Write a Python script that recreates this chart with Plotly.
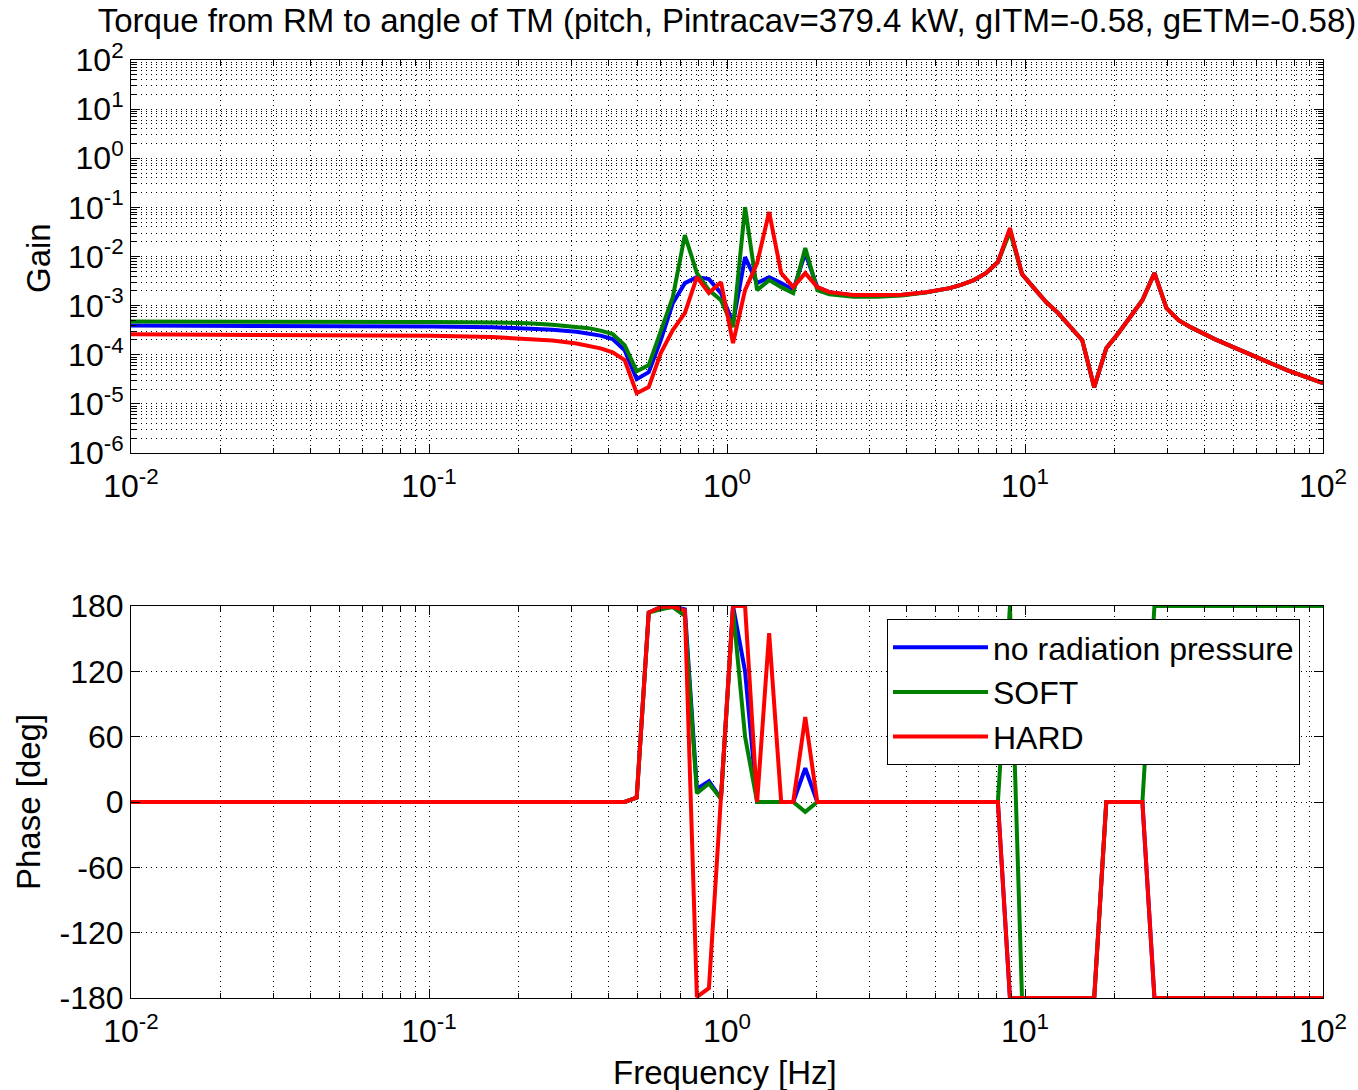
import plotly.graph_objects as go

# ---------------- data ----------------
freq_hz = [0.01, 0.02535, 0.03352, 0.03678, 0.06428, 0.1023, 0.1630, 0.2154, 0.2596, 0.3126,
           0.3430, 0.3765, 0.4132, 0.4535, 0.4977, 0.5462, 0.5995, 0.6579, 0.7221, 0.7925,
           0.8697, 0.9545, 1.0476, 1.1498, 1.2619, 1.3849, 1.5199, 1.6681, 1.8307, 2.0092,
           2.2051, 2.656, 3.199, 3.853, 4.642, 5.094, 5.591, 6.136, 6.734, 7.391,
           8.111, 8.902, 9.770, 10.72, 11.77, 12.92, 14.17, 15.56, 17.07, 18.74,
           20.57, 22.57, 24.77, 27.19, 29.84, 32.75, 35.94, 43.29, 57.22, 75.65, 100.0]

gain_none = [3.92e-4, 3.92e-4, 3.91e-4, 3.91e-4, 3.90e-4, 3.77e-4, 3.65e-4, 3.48e-4, 3.24e-4, 2.95e-4,
             2.75e-4, 2.45e-4, 2.08e-4, 1.24e-4, 3.18e-5, 4.42e-5, 1.98e-4, 1.12e-3, 2.87e-3, 3.80e-3,
             3.47e-3, 1.80e-3, 4.40e-4, 9.72e-3, 2.87e-3, 3.80e-3, 2.87e-3, 2.07e-3, 1.17e-2, 2.38e-3,
             1.88e-3, 1.60e-3, 1.60e-3, 1.65e-3, 1.86e-3, 2.02e-3, 2.27e-3, 2.68e-3, 3.31e-3, 4.59e-3,
             7.69e-3, 3.50e-2, 4.38e-3, 2.27e-3, 1.18e-3, 7.03e-4, 3.82e-4, 1.98e-4, 2.19e-5, 1.36e-4,
             2.75e-4, 6.11e-4, 1.29e-3, 4.59e-3, 8.89e-4, 5.07e-4, 3.65e-4, 2.08e-4, 9.82e-5, 4.85e-5, 2.64e-5]

gain_soft = [4.77e-4, 4.77e-4, 4.76e-4, 4.76e-4, 4.75e-4, 4.65e-4, 4.55e-4, 4.40e-4, 4.10e-4, 3.73e-4,
             3.48e-4, 3.10e-4, 2.63e-4, 1.57e-4, 4.63e-5, 6.14e-5, 3.17e-4, 1.49e-3, 2.73e-2, 4.59e-3,
             2.07e-3, 1.29e-3, 3.65e-4, 1.014e-1, 2.07e-3, 3.31e-3, 2.38e-3, 1.80e-3, 1.48e-2, 2.07e-3,
             1.71e-3, 1.52e-3, 1.52e-3, 1.60e-3, 1.84e-3, 2.02e-3, 2.27e-3, 2.68e-3, 3.31e-3, 4.59e-3,
             7.69e-3, 3.20e-2, 4.38e-3, 2.27e-3, 1.18e-3, 7.03e-4, 3.82e-4, 1.98e-4, 2.19e-5, 1.36e-4,
             2.75e-4, 6.11e-4, 1.29e-3, 4.59e-3, 8.89e-4, 5.07e-4, 3.65e-4, 2.08e-4, 9.82e-5, 4.85e-5, 2.64e-5]

gain_hard = [2.60e-4, 2.58e-4, 2.57e-4, 2.56e-4, 2.52e-4, 2.45e-4, 2.30e-4, 2.12e-4, 1.95e-4, 1.70e-4,
             1.55e-4, 1.35e-4, 1.12e-4, 7.80e-5, 1.65e-5, 2.19e-5, 1.08e-4, 3.17e-4, 7.03e-4, 3.80e-3,
             1.80e-3, 3.01e-3, 1.72e-4, 2.07e-3, 7.34e-3, 8.02e-2, 4.59e-3, 2.38e-3, 4.59e-3, 2.38e-3,
             1.88e-3, 1.64e-3, 1.64e-3, 1.67e-3, 1.88e-3, 2.02e-3, 2.27e-3, 2.68e-3, 3.31e-3, 4.59e-3,
             7.69e-3, 3.79e-2, 4.38e-3, 2.27e-3, 1.18e-3, 7.03e-4, 3.82e-4, 1.98e-4, 2.19e-5, 1.36e-4,
             2.75e-4, 6.11e-4, 1.29e-3, 4.59e-3, 8.89e-4, 5.07e-4, 3.65e-4, 2.08e-4, 9.82e-5, 4.85e-5, 2.64e-5]

phase_none = [0, 0, 0, 0, 0, 0, 0, 0, 0, 0,
              0, 0, 0, 0, 4, 174, 179, 179.5, 177, 12,
              19, 3, 180, 120, 0, 0, 0, 0, 31, 0,
              0, 0, 0, 0, 0, 0, 0, 0, 0, 0,
              0, -180, -180, -180, -180, -180, -180, -180, -180, 0,
              0, 0, 0, -180, -180, -180, -180, -180, -180, -180, -180]

phase_soft = [0, 0, 0, 0, 0, 0, 0, 0, 0, 0,
              0, 0, 0, 0, 4, 174, 177, 179, 171, 8,
              17, 3, 177, 60, 0, 0, 0, 0, -9, 0,
              0, 0, 0, 0, 0, 0, 0, 0, 0, 0,
              0, 180, -180, -180, -180, -180, -180, -180, -180, 0,
              0, 0, 0, 180, 180, 180, 180, 180, 180, 180, 180]

phase_hard = [0, 0, 0, 0, 0, 0, 0, 0, 0, 0,
              0, 0, 0, 0, 4, 174, 179, 179.5, 176, -179,
              -171, 5, 180, 180, 0, 155, 0, 0, 78, 0,
              0, 0, 0, 0, 0, 0, 0, 0, 0, 0,
              0, -180, -180, -180, -180, -180, -180, -180, -180, 0,
              0, 0, 0, -180, -180, -180, -180, -180, -180, -180, -180]

series_names = ["no radiation pressure", "SOFT", "HARD"]
series_colors = ["#0000FF", "#008000", "#FF0000"]

x_ticks = [0.01, 0.1, 1, 10, 100]
x_ticktext = ["10<sup>-2</sup>", "10<sup>-1</sup>", "10<sup>0</sup>", "10<sup>1</sup>", "10<sup>2</sup>"]
gain_ticks = [1e-6, 1e-5, 1e-4, 1e-3, 1e-2, 1e-1, 1e0, 1e1, 1e2]
gain_ticktext = ["10<sup>-6</sup>", "10<sup>-5</sup>", "10<sup>-4</sup>", "10<sup>-3</sup>",
                 "10<sup>-2</sup>", "10<sup>-1</sup>", "10<sup>0</sup>", "10<sup>1</sup>", "10<sup>2</sup>"]
phase_ticks = [-180, -120, -60, 0, 60, 120, 180]
phase_ticktext = ["-180", "-120", "-60", "0", "60", "120", "180"]

title_text = "Torque from RM to angle of TM (pitch, Pintracav=379.4 kW, gITM=-0.58, gETM=-0.58)"

# ---------------- figure ----------------
FONT = "Liberation Sans, Arial, Helvetica, sans-serif"
W, H = 1358, 1090
ML, MR, MT, MB = 131, 35, 60, 92
plot_h = H - MT - MB
TXT = 33
TICK = 32
DOTS = "1px,4px"

def frac_y(py):
    return (H - MB - py) / plot_h

def frac_x(px):
    return (px - ML) / (W - ML - MR)

fig = go.Figure()

gains = [gain_none, gain_soft, gain_hard]
phases = [phase_none, phase_soft, phase_hard]
for name, col, g in zip(series_names, series_colors, gains):
    fig.add_trace(go.Scatter(x=freq_hz, y=g, mode="lines", name=name,
                             line=dict(color=col, width=4),
                             xaxis="x", yaxis="y", showlegend=False))
for name, col, p in zip(series_names, series_colors, phases):
    fig.add_trace(go.Scatter(x=freq_hz, y=p, mode="lines", name=name,
                             line=dict(color=col, width=4),
                             xaxis="x2", yaxis="y2", showlegend=True))

minor_x = [d * m for d in (0.01, 0.1, 1, 10) for m in range(2, 10)]
minor_y = [d * m for d in (1e-6, 1e-5, 1e-4, 1e-3, 1e-2, 1e-1, 1, 10) for m in range(2, 10)]

GRID = dict(showgrid=True, gridcolor="#000000", gridwidth=1, griddash=DOTS)
AX = dict(showline=True, linecolor="#000000", linewidth=1, mirror="allticks",
          ticks="inside", ticklen=9, tickcolor="#000000", zeroline=False,
          tickfont=dict(family=FONT, size=TICK, color="#000000"))
MINOR = dict(ticks="inside", ticklen=5, tickcolor="#000000",
             showgrid=True, gridcolor="#000000", gridwidth=1, griddash=DOTS)

def log_x(anchor):
    return dict(type="log", range=[-2, 2], tickmode="array", tickvals=x_ticks, ticktext=x_ticktext,
                minor=dict(tickvals=minor_x, **MINOR), anchor=anchor,
                ticklabelstandoff=5, **GRID, **AX)

top_bottom = frac_y(453)
bot_top = frac_y(606)

fig.update_layout(
    width=W, height=H,
    margin=dict(l=ML, r=MR, t=MT, b=MB, autoexpand=False),
    paper_bgcolor="#FFFFFF", plot_bgcolor="#FFFFFF",
    font=dict(family=FONT, size=TXT, color="#000000"),
    title=dict(text=title_text, x=0.5, xref="paper", xanchor="center",
               y=1 - 20 / H, yref="container", yanchor="middle",
               font=dict(family=FONT, size=TXT, color="#000000")),
    xaxis=dict(domain=[0, 1], **log_x("y")),
    yaxis=dict(domain=[top_bottom, 1], type="log", range=[-6, 2], tickmode="array",
               tickvals=gain_ticks, ticktext=gain_ticktext, anchor="x",
               minor=dict(tickvals=minor_y, **MINOR), **GRID, **AX),
    xaxis2=dict(domain=[0, 1], **log_x("y2")),
    yaxis2=dict(domain=[0, bot_top], range=[-180, 180], tickmode="array",
                tickvals=phase_ticks, ticktext=phase_ticktext, anchor="x2", **GRID, **AX),
    legend=dict(x=frac_x(887), y=frac_y(619), xanchor="left", yanchor="top",
                xref="paper", yref="paper",
                bgcolor="#FFFFFF", bordercolor="#000000", borderwidth=1,
                font=dict(family=FONT, size=32, color="#000000"),
                itemwidth=95, tracegroupgap=0),
    showlegend=True,
    annotations=[
        dict(text="Gain", xref="paper", yref="paper", x=frac_x(38), y=frac_y(258),
             textangle=-90, showarrow=False, xanchor="center", yanchor="middle",
             font=dict(family=FONT, size=TXT, color="#000000")),
        dict(text="Phase [deg]", xref="paper", yref="paper", x=frac_x(28), y=frac_y(802),
             textangle=-90, showarrow=False, xanchor="center", yanchor="middle",
             font=dict(family=FONT, size=TXT, color="#000000")),
        dict(text="Frequency [Hz]", xref="paper", yref="paper", x=frac_x(725), y=frac_y(1072),
             showarrow=False, xanchor="center", yanchor="middle",
             font=dict(family=FONT, size=TXT, color="#000000")),
    ],
)

fig.write_html("out.html", config={"displayModeBar": False},
               post_script="document.body.style.margin='0';")
